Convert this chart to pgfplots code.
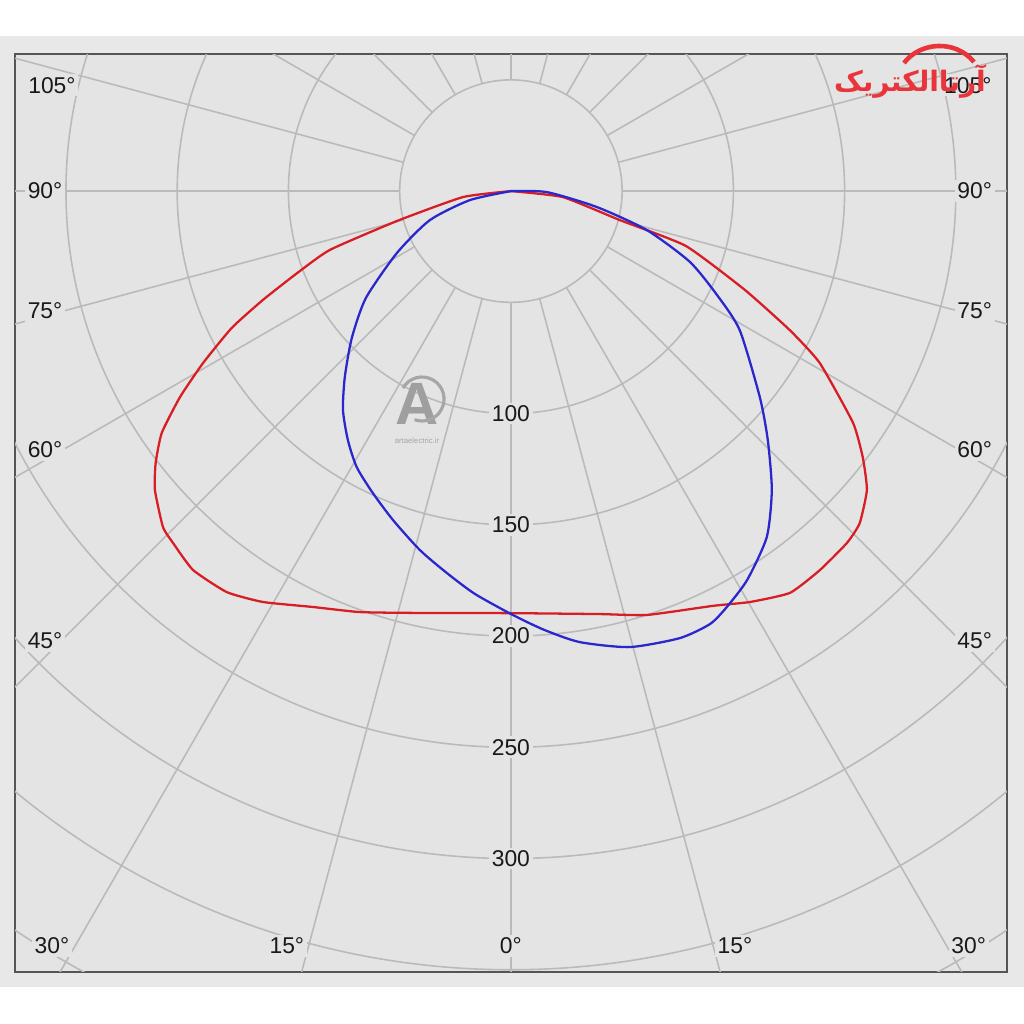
\documentclass[border=0pt]{standalone}
\usepackage{fontspec}
\setmainfont{Liberation Sans}
\newfontfamily\arabicfont[Script=Arabic]{DejaVu Sans}
\TeXXeTstate=1
\usepackage{pgfplots}
\usepackage{pgfplotstable}
\pgfplotsset{compat=1.18}
\definecolor{panel}{RGB}{232,232,232}
\definecolor{bgin}{RGB}{228,228,228}
\definecolor{gridc}{RGB}{186,186,186}
\definecolor{framec}{RGB}{85,85,85}
\definecolor{cRed}{RGB}{215,30,36}
\definecolor{cBlue}{RGB}{42,40,205}
\definecolor{logored}{RGB}{232,52,58}
\tikzset{lbl/.style={font=\fontsize{6.5}{7.5}\selectfont, text=black!90, fill=bgin, inner sep=0.8pt}}

% intensity (cd) against angle from nadir, C0-C180 plane
\pgfplotstableread{
a i
-90 0
-82.9 21.7
-75.3 53.0
-72.0 85.6
-69.0 103.0
-66.3 121.8
-63.9 139.7
-60.8 158.6
-58.1 175.2
-55.3 190.9
-52.6 201.0
-50.0 208.9
-46.0 217.4
-43.8 219.3
-40.0 222.3
-35.3 220.9
-31.1 215.7
-25.5 207.1
-19.7 201.0
-12.2 194.0
0 189.7
11.9 194.3
17.8 200.1
26.0 207.4
30.2 213.7
34.8 219.9
39.2 219.8
43.7 218.7
46.4 216.5
50.0 208.9
52.9 198.3
55.9 185.7
60.9 158.9
63.5 140.1
67.1 114.2
72.6 82.4
75.1 50.7
83.4 23.5
90 0
}\redtab

% C90-C270 plane
\pgfplotstableread{
a i
-90 0
-77.6 18.9
-70.3 38.7
-61.5 58.3
-53.6 81.0
-47.3 97.3
-41.8 112.0
-37.5 124.0
-33.2 133.8
-29.2 142.1
-24.6 149.2
-19.7 157.1
-14.2 166.5
-9.5 174.1
-5.1 181.8
0.3 190.6
4.4 197.9
8.7 205.1
14.6 211.8
20.7 214.8
24.7 214.2
27.4 210.7
31.3 204.5
36.5 193.4
41.1 178.4
45.9 160.8
50.4 145.2
58.7 120.4
63.1 104.3
68.4 86.6
74.0 63.6
79.5 39.3
88.4 16.2
90 0
}\bluetab

\begin{document}
\begin{tikzpicture}
\fill[white] (-0.15,-0.52) rectangle (10.09,9.72);
\fill[panel] (-0.15,-0.15) rectangle (10.09,9.36);
\begin{axis}[
  at={(0,0)}, anchor=south west,
  x=0.02225cm, y=0.02225cm,
  xmin=-222.9, xmax=222.9,
  ymin=-351.0, ymax=61.6,
  xtick=\empty, ytick=\empty,
  axis line style={framec, line width=0.6pt},
  axis background/.style={fill=bgin},
]
% grid
\pgfplotsinvokeforeach{50,100,...,400}{
  \draw[gridc, line width=0.45pt] (axis cs:0,0) circle[radius=#1];
}
\pgfplotsinvokeforeach{0,15,...,345}{
  \addplot[gridc, line width=0.45pt, data cs=polar, forget plot] coordinates {(#1,50) (#1,520)};
}
% ring values
\node[lbl] at (axis cs:0,-100) {100};
\node[lbl] at (axis cs:0,-150) {150};
\node[lbl] at (axis cs:0,-200) {200};
\node[lbl] at (axis cs:0,-250) {250};
\node[lbl] at (axis cs:0,-300) {300};
% angle labels
\node[lbl] at (axis cs:-206.3,47.6) {105°};
\node[lbl] at (axis cs:-209.4,0) {90°};
\node[lbl] at (axis cs:-209.4,-53.9) {75°};
\node[lbl] at (axis cs:-209.4,-116.4) {60°};
\node[lbl] at (axis cs:-209.4,-202.2) {45°};
\node[lbl] at (axis cs:-206.3,-339.3) {30°};
\node[lbl] at (axis cs:-100.7,-339.3) {15°};
\node[lbl] at (axis cs:0,-339.3) {0°};
\node[lbl] at (axis cs:100.7,-339.3) {15°};
\node[lbl] at (axis cs:205.8,-339.3) {30°};
\node[lbl] at (axis cs:205.4,47.6) {105°};
\node[lbl] at (axis cs:208.5,0) {90°};
\node[lbl] at (axis cs:208.5,-53.9) {75°};
\node[lbl] at (axis cs:208.5,-116.4) {60°};
\node[lbl] at (axis cs:208.5,-202.2) {45°};
% curves
\addplot[cRed, line width=0.65pt, smooth, tension=0.3, data cs=polar] table[x expr=\thisrow{a}-90, y=i] {\redtab};
\addplot[cBlue, line width=0.65pt, smooth, tension=0.4, data cs=polar] table[x expr=\thisrow{a}-90, y=i] {\bluetab};
\end{axis}
% watermark
\node[text=gray!75, font=\bfseries\fontsize{17}{17}\selectfont, inner sep=0pt] at (4.02,5.68) {A};
\draw[gray!70, line width=0.9pt] (3.88,5.84) arc[start angle=150, end angle=-110, radius=0.22];
\node[text=gray!70, font=\fontsize{2.2}{3}\selectfont, inner sep=0pt] at (4.02,5.31) {artaelectric.ir};
% logo
\draw[logored, line width=1.3pt] (8.89,9.09) .. controls (9.05,9.30) and (9.40,9.33) .. (9.59,9.10);
\node[text=logored, font=\arabicfont\bfseries\fontsize{8}{9}\selectfont, inner sep=0pt] at (8.95,8.90) {\beginR آرتاالکتریک\endR};
\end{tikzpicture}
\end{document}
